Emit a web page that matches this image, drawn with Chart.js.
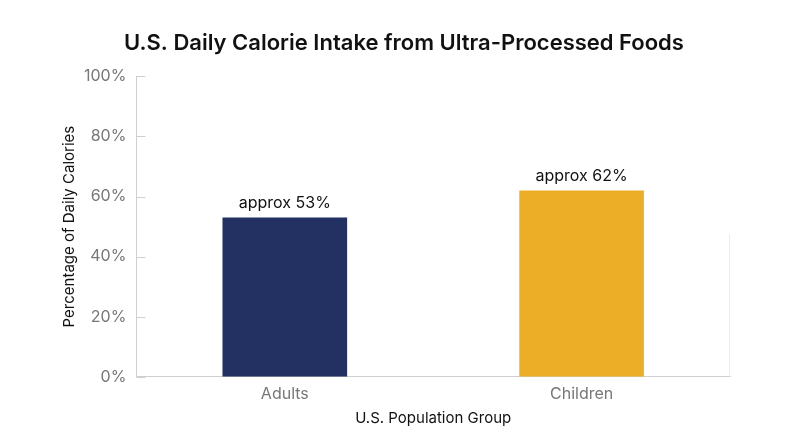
<!DOCTYPE html>
<html>
<head>
<meta charset="utf-8">
<script src="https://cdn.jsdelivr.net/npm/chart.js@4"></script>
<style>
  html, body { margin: 0; padding: 0; background: #fff; }
  #wrap { width: 800px; height: 447px; }
</style>
</head>
<body>
<div id="wrap"><canvas id="graficoUPF"></canvas></div>
<script>
const grupos = ["Adults", "Children"];
const valores = [53, 62];
const rotulos = ["approx 53%", "approx 62%"];
const cores = ["#223162", "#edae27"];
const ticksY = [0, 20, 40, 60, 80, 100];

Chart.defaults.font.family = "Inter, 'Noto Sans', sans-serif";

// rotulos em cima das barras + tracinhos do eixo y pra dentro
const extras = {
  id: "extras",
  afterDatasetsDraw(chart) {
    const ctx = chart.ctx;
    const meta = chart.getDatasetMeta(0);
    ctx.save();
    ctx.fillStyle = "#111";
    ctx.font = "400 16px Inter, sans-serif";
    ctx.textAlign = "center";
    ctx.textBaseline = "bottom";
    meta.data.forEach((bar, i) => {
      ctx.fillText(rotulos[i], bar.x, bar.y - 6);
    });
    const y = chart.scales.y;
    const x0 = chart.chartArea.left;
    ctx.strokeStyle = "#cfcfcf";
    ctx.lineWidth = 1;
    ticksY.forEach((v) => {
      const py = Math.round(y.getPixelForValue(v)) + 0.5;
      ctx.beginPath();
      ctx.moveTo(x0, py);
      ctx.lineTo(x0 + 9, py);
      ctx.stroke();
    });
    // linha clarinha na direita
    const xr = chart.chartArea.right - 0.5;
    ctx.strokeStyle = "#ececec";
    ctx.beginPath();
    ctx.moveTo(xr, y.getPixelForValue(47.5));
    ctx.lineTo(xr, y.getPixelForValue(0));
    ctx.stroke();
    ctx.restore();
  },
};

const grafico = new Chart(document.getElementById("graficoUPF"), {
  type: "bar",
  data: {
    labels: grupos,
    datasets: [
      {
        data: valores,
        backgroundColor: cores,
        barPercentage: 0.42,
        categoryPercentage: 1,
      },
    ],
  },
  options: {
    responsive: true,
    maintainAspectRatio: false,
    animation: false,
    layout: {
      padding: { left: 78, right: 70, top: 8, bottom: 16 },
    },
    plugins: {
      legend: { display: false },
      tooltip: { enabled: false },
      title: {
        display: true,
        text: "U.S. Daily Calorie Intake from Ultra-Processed Foods",
        color: "#111",
        font: { size: 22, weight: "600" },
        padding: { top: 22, bottom: 20 },
      },
    },
    scales: {
      x: {
        grid: { display: false, drawTicks: false },
        border: { color: "#cfcfcf" },
        ticks: { color: "#777", font: { size: 16 }, padding: 8 },
        title: {
          display: true,
          text: "U.S. Population Group",
          color: "#111",
          font: { size: 15 },
          padding: { top: -3 },
        },
      },
      y: {
        min: 0,
        max: 100,
        grid: { display: false, drawTicks: false },
        border: { color: "#cfcfcf" },
        ticks: {
          stepSize: 20,
          color: "#777",
          font: { size: 16 },
          padding: 10,
          callback: (v) => v + "%",
        },
        title: {
          display: true,
          text: "Percentage of Daily Calories",
          color: "#111",
          font: { size: 15 },
          padding: { top: -18, bottom: -4 },
        },
      },
    },
  },
  plugins: [extras],
});
</script>
</body>
</html>
